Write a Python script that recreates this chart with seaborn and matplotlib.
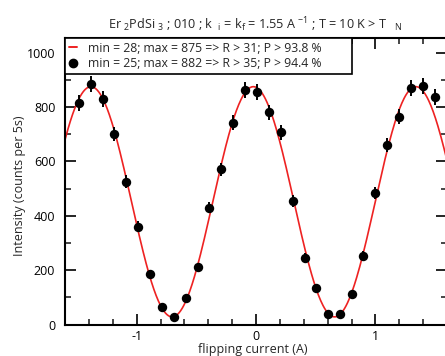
import numpy as np
import matplotlib
matplotlib.use("Agg")
import matplotlib.pyplot as plt
import seaborn as sns
from matplotlib.lines import Line2D
from matplotlib.ticker import MultipleLocator

# measured points: flipping current (A) vs counts per 5 s
current = [-1.48, -1.38, -1.28, -1.19, -1.09, -0.99, -0.89, -0.79, -0.69, -0.59,
           -0.49, -0.39, -0.29, -0.19, -0.09, 0.01, 0.11, 0.21, 0.31, 0.41,
           0.50, 0.60, 0.70, 0.80, 0.90, 1.00, 1.10, 1.20, 1.30, 1.40, 1.50]
counts = [815, 885, 830, 701, 526, 360, 185, 66, 26, 97,
          212, 430, 571, 743, 863, 854, 781, 707, 455, 246,
          136, 40, 40, 112, 253, 483, 661, 765, 869, 877, 836]
errors = [29, 30, 29, 26, 23, 19, 14, 8, 5, 10,
          15, 21, 24, 27, 29, 29, 28, 27, 21, 16,
          12, 6, 6, 11, 16, 22, 26, 28, 29, 30, 29]

# cosine fit parameters
fit_min = 28
fit_max = 875
fit_period = 1.361
fit_center = -0.022

label_fit = "min = 28; max = 875 => R > 31; P > 93.8 %"
label_data = "min = 25; max = 882 => R > 35; P > 94.4 %"
title = (r"Er $_{2}$PdSi $_{3}$ ; 010 ; k  $_{\rm i}$ = k$_{\rm f}$ = 1.55 A $^{-1}$"
         r" ; T = 10 K > T   $_{\rm N}$")

sns.set_style("ticks")
plt.rcParams['font.family'] = ['Open Sans', 'DejaVu Sans']
plt.rcParams['mathtext.fontset'] = 'custom'
plt.rcParams['mathtext.rm'] = 'Open Sans'
plt.rcParams['mathtext.it'] = 'Open Sans'

fig = plt.figure(figsize=(4.45, 3.56), dpi=100)
ax = fig.add_axes([65 / 445, 31.5 / 356, 382 / 445, 286.5 / 356])

xs = np.linspace(-1.6, 1.6, 500)
fit = (fit_max + fit_min) / 2 + (fit_max - fit_min) / 2 * np.cos(2 * np.pi * (xs - fit_center) / fit_period)
sns.lineplot(x=xs, y=fit, color='#ee2222', linewidth=1.2, ax=ax, zorder=2)
ax.errorbar(current, counts, yerr=errors, fmt='none', ecolor='black',
            elinewidth=1.4, capsize=0, zorder=3)
sns.scatterplot(x=current, y=counts, color='black', s=46, linewidth=0, ax=ax, zorder=4)

ax.set_xlim(-1.6, 1.6)
ax.set_ylim(0, 1054)
ax.xaxis.set_minor_locator(MultipleLocator(0.2))
ax.yaxis.set_minor_locator(MultipleLocator(100))
ax.set_yticks([0, 200, 400, 600, 800, 1000])
ax.set_xticks([-1, 0, 1])
ax.set_xticklabels(['-1', '0', '1'])
ax.tick_params(which='major', direction='in', top=True, right=True,
               length=8, width=1.2, labelsize=9, pad=4, colors='black')
ax.tick_params(which='minor', direction='in', top=True, right=True,
               length=4, width=1.2)
ax.tick_params(axis='y', which='major', pad=7)
for s in ax.spines.values():
    s.set_linewidth(1.5)
    s.set_color('black')

handles = [Line2D([], [], color='#ee2222', linewidth=1.4),
           Line2D([], [], color='black', marker='o', linestyle='none', markersize=6)]
leg = ax.legend(handles, [label_fit, label_data], loc='upper left',
                bbox_to_anchor=(0, 1, 0.751, 0), mode='expand', borderaxespad=0,
                fontsize=8.8, handlelength=0.7, handletextpad=0.9,
                labelspacing=0.2, borderpad=0.3, fancybox=False,
                framealpha=1, edgecolor='black')
leg.get_frame().set_linewidth(1.2)

fig.text(255 / 445, 1 - 25 / 356, title, ha='center', va='center', fontsize=9.1)
fig.text(20 / 445, 1 - 186 / 356, "Intensity (counts per 5s)", rotation=90,
         ha='center', va='center', fontsize=9)
fig.text(253 / 445, 1 - 349 / 356, "flipping current (A)", ha='center', va='center',
         fontsize=9)

fig.savefig('out.png', dpi=100)
